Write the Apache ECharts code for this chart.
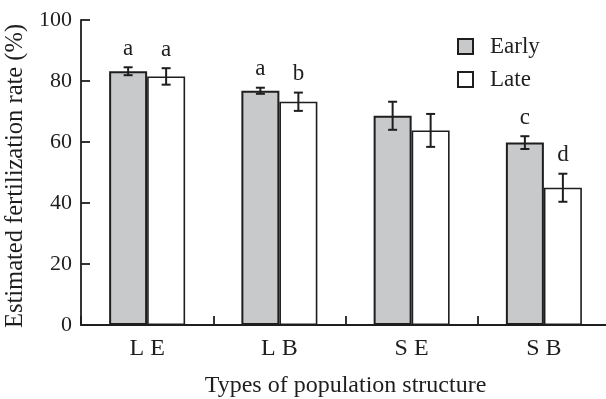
<!DOCTYPE html>
<html>
<head>
<meta charset="utf-8">
<style>
  html, body { margin: 0; padding: 0; background: #fff; }
  #chart { width: 606px; height: 399px; }
</style>
<script src="https://cdn.jsdelivr.net/npm/echarts@6/dist/echarts.min.js"></script>
</head>
<body>
<div id="chart"></div>
<script>
// Fertilization rate (%) by population structure, early vs late spawning
const categories = ['L E', 'L B', 'S E', 'S B'];
const earlyValues = [83.2, 76.8, 68.6, 59.8];
const earlyErrors = [1.3, 1.0, 4.6, 2.1];
const earlyLetters = ['a', 'a', '', 'c'];
const lateValues = [81.5, 73.2, 63.8, 45.0];
const lateErrors = [2.7, 3.0, 5.4, 4.6];
const lateLetters = ['a', 'b', '', 'd'];
const yTicks = { min: 0, max: 100, interval: 20 };

const FONT = "'Liberation Serif', 'DejaVu Serif', serif";
const INK = '#1e1e1e';
const GRAY = '#c8c9cb';
const BAR_W = 38;

// error bar with caps plus significance letter above it
function errorRenderer(offset) {
  return function (params, api) {
    const cat = api.value(0);
    const val = api.value(1);
    const err = api.value(2);
    const letter = api.value(3);
    const top = api.coord([cat, val + err]);
    const bot = api.coord([cat, val - err]);
    const x = top[0] + offset;
    const cap = 4.5;
    const style = { stroke: INK, lineWidth: 2 };
    const children = [
      { type: 'line', shape: { x1: x, y1: top[1], x2: x, y2: bot[1] }, style },
      { type: 'line', shape: { x1: x - cap, y1: top[1], x2: x + cap, y2: top[1] }, style },
      { type: 'line', shape: { x1: x - cap, y1: bot[1], x2: x + cap, y2: bot[1] }, style }
    ];
    if (letter) {
      children.push({
        type: 'text',
        style: {
          x: x, y: top[1] - 7, text: letter,
          fill: INK, font: '23px ' + FONT,
          textAlign: 'center', textVerticalAlign: 'bottom'
        }
      });
    }
    return { type: 'group', children };
  };
}

function errorData(values, errors, letters) {
  return values.map((v, i) => [i, v, errors[i], letters[i]]);
}

const chart = echarts.init(document.getElementById('chart'));
chart.setOption({
  animation: false,
  backgroundColor: '#fff',
  textStyle: { fontFamily: FONT, color: INK },
  // plot area runs slightly past the right edge of the canvas
  grid: { left: 81, top: 20, width: 529, height: 305, containLabel: false, outerBoundsMode: 'none' },
  legend: {
    orient: 'vertical',
    left: 457,
    top: 35,
    padding: 0,
    itemWidth: 15,
    itemHeight: 15,
    itemGap: 10,
    icon: 'rect',
    textStyle: { fontFamily: FONT, fontSize: 23, color: INK, padding: [0, 0, 0, 12] },
    data: [
      { name: 'Early', itemStyle: { color: GRAY, borderColor: INK, borderWidth: 2 } },
      { name: 'Late', itemStyle: { color: '#fff', borderColor: INK, borderWidth: 2 } }
    ]
  },
  xAxis: {
    type: 'category',
    data: categories,
    boundaryGap: true,
    name: 'Types of population structure',
    nameLocation: 'middle',
    nameGap: 49,
    nameTextStyle: { fontFamily: FONT, fontSize: 24, color: INK },
    axisLine: { lineStyle: { color: INK, width: 1.8 } },
    axisTick: { show: true, inside: true, length: 9, lineStyle: { color: INK, width: 1.8 } },
    axisLabel: { fontFamily: FONT, fontSize: 24, color: INK, margin: 12 },
    splitLine: { show: false }
  },
  yAxis: {
    type: 'value',
    min: yTicks.min,
    max: yTicks.max,
    interval: yTicks.interval,
    name: 'Estimated fertilization rate (%)',
    nameLocation: 'middle',
    nameRotate: 90,
    nameGap: 47,
    nameTextStyle: { fontFamily: FONT, fontSize: 24.5, color: INK, padding: [0, 7, 0, 0] },
    axisLine: { show: true, lineStyle: { color: INK, width: 1.8 } },
    axisTick: { show: true, inside: true, length: 9, lineStyle: { color: INK, width: 1.8 } },
    axisLabel: { fontFamily: FONT, fontSize: 22, color: INK, margin: 9 },
    splitLine: { show: false }
  },
  series: [
    {
      name: 'Early',
      type: 'bar',
      data: earlyValues,
      barWidth: BAR_W,
      barGap: '0%',
      itemStyle: { color: GRAY, borderColor: INK, borderWidth: 2 }
    },
    {
      name: 'Late',
      type: 'bar',
      data: lateValues,
      barWidth: BAR_W,
      barGap: '0%',
      itemStyle: { color: '#fff', borderColor: INK, borderWidth: 1.6 }
    },
    {
      name: 'Early error',
      type: 'custom',
      renderItem: errorRenderer(-BAR_W / 2),
      data: errorData(earlyValues, earlyErrors, earlyLetters),
      encode: { x: 0, y: 1 },
      z: 5
    },
    {
      name: 'Late error',
      type: 'custom',
      renderItem: errorRenderer(BAR_W / 2),
      data: errorData(lateValues, lateErrors, lateLetters),
      encode: { x: 0, y: 1 },
      z: 5
    }
  ]
});
</script>
</body>
</html>
